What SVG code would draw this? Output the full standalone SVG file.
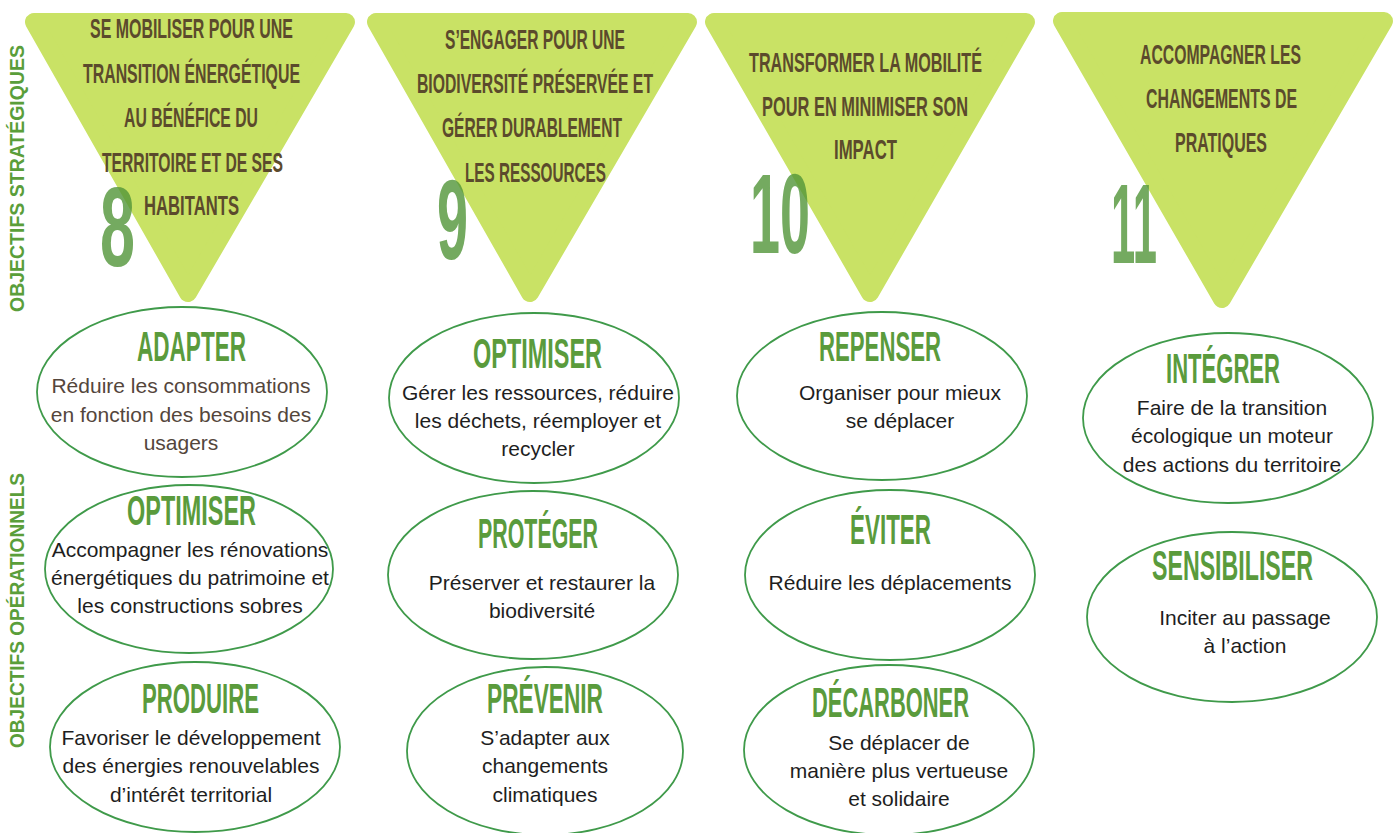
<svg xmlns="http://www.w3.org/2000/svg" width="1400" height="833" viewBox="0 0 1400 833">
<style>
.tri{fill:#c9e265;stroke:#c9e265;stroke-width:18;stroke-linejoin:round}
.th{font-family:"Liberation Sans",Arial,sans-serif;font-weight:bold;font-size:28px;fill:#5b4a2c}
.num{font-family:"Liberation Sans",Arial,sans-serif;font-weight:bold;font-size:114px;fill:#519538;fill-opacity:0.8}
.ell{fill:#ffffff;stroke:#3f9a4a;stroke-width:1.8}
.gh{font-family:"Liberation Sans",Arial,sans-serif;font-weight:bold;font-size:43px;fill:#5a9b3c}
.bt{font-family:"Liberation Sans",Arial,sans-serif;font-size:21px;fill:#1e1e1e;text-anchor:middle}
.bt2{fill:#54463c}
.vl{font-family:"Liberation Sans",Arial,sans-serif;font-weight:bold;font-size:20px;fill:#5a9e3a}
</style>
<rect width="1400" height="833" fill="#ffffff"/>
<g id="labels">
<text class="vl" transform="translate(24,178.5) rotate(-90)" x="-133.5" y="0" textLength="267" lengthAdjust="spacingAndGlyphs">OBJECTIFS STRATÉGIQUES</text>
<text class="vl" transform="translate(24,610.5) rotate(-90)" x="-137.5" y="0" textLength="275" lengthAdjust="spacingAndGlyphs">OBJECTIFS OPÉRATIONNELS</text>
</g>
<g id="connectors"></g>
<g id="obj8">
<polygon class="tri" points="34,22 346,22 188,293"/>
<text class="th" x="90" y="38" textLength="203" lengthAdjust="spacingAndGlyphs">SE MOBILISER POUR UNE</text>
<text class="th" x="83" y="83" textLength="217" lengthAdjust="spacingAndGlyphs">TRANSITION ÉNERGÉTIQUE</text>
<text class="th" x="124" y="127" textLength="134" lengthAdjust="spacingAndGlyphs">AU BÉNÉFICE DU</text>
<text class="th" x="102" y="172" textLength="181" lengthAdjust="spacingAndGlyphs">TERRITOIRE ET DE SES</text>
<text class="th" x="144" y="215" textLength="95" lengthAdjust="spacingAndGlyphs">HABITANTS</text>
<text class="num" x="100" y="266" textLength="35" lengthAdjust="spacingAndGlyphs">8</text>
</g>
<g id="obj9">
<polygon class="tri" points="376,22 688,22 530,293"/>
<text class="th" x="445" y="49" textLength="180" lengthAdjust="spacingAndGlyphs">S’ENGAGER POUR UNE</text>
<text class="th" x="417" y="93" textLength="236" lengthAdjust="spacingAndGlyphs">BIODIVERSITÉ PRÉSERVÉE ET</text>
<text class="th" x="442" y="137" textLength="180" lengthAdjust="spacingAndGlyphs">GÉRER DURABLEMENT</text>
<text class="th" x="465" y="182" textLength="141" lengthAdjust="spacingAndGlyphs">LES RESSOURCES</text>
<text class="num" x="437" y="259" textLength="31" lengthAdjust="spacingAndGlyphs">9</text>
</g>
<g id="obj10">
<polygon class="tri" points="714,22 1026,22 870,293"/>
<text class="th" x="749" y="72" textLength="233" lengthAdjust="spacingAndGlyphs">TRANSFORMER LA MOBILITÉ</text>
<text class="th" x="762" y="116" textLength="206" lengthAdjust="spacingAndGlyphs">POUR EN MINIMISER SON</text>
<text class="th" x="834" y="159" textLength="63" lengthAdjust="spacingAndGlyphs">IMPACT</text>
<text class="num" x="750" y="253" textLength="60" lengthAdjust="spacingAndGlyphs">10</text>
</g>
<g id="obj11">
<polygon class="tri" points="1062,21 1384,21 1222,299"/>
<text class="th" x="1140" y="64" textLength="161" lengthAdjust="spacingAndGlyphs">ACCOMPAGNER LES</text>
<text class="th" x="1146" y="108" textLength="151" lengthAdjust="spacingAndGlyphs">CHANGEMENTS DE</text>
<text class="th" x="1175" y="152" textLength="92" lengthAdjust="spacingAndGlyphs">PRATIQUES</text>
<text class="num" x="1111" y="263" textLength="46" lengthAdjust="spacingAndGlyphs">11</text>
</g>
<g id="adapter">
<ellipse class="ell" cx="182" cy="392" rx="145" ry="85"/>
<text class="gh" x="137" y="361" textLength="109" lengthAdjust="spacingAndGlyphs">ADAPTER</text>
<text class="bt bt2" x="181" y="393">Réduire les consommations</text>
<text class="bt bt2" x="181" y="422">en fonction des besoins des</text>
<text class="bt bt2" x="181" y="450">usagers</text>
</g>
<g id="optimiser1">
<ellipse class="ell" cx="189" cy="569" rx="144" ry="84"/>
<text class="gh" x="127" y="525" textLength="129" lengthAdjust="spacingAndGlyphs">OPTIMISER</text>
<text class="bt" x="190" y="557">Accompagner les rénovations</text>
<text class="bt" x="190" y="585">énergétiques du patrimoine et</text>
<text class="bt" x="190" y="613">les constructions sobres</text>
</g>
<g id="produire">
<ellipse class="ell" cx="195" cy="747" rx="145" ry="85"/>
<text class="gh" x="142" y="713" textLength="117" lengthAdjust="spacingAndGlyphs">PRODUIRE</text>
<text class="bt" x="191" y="745">Favoriser le développement</text>
<text class="bt" x="191" y="773">des énergies renouvelables</text>
<text class="bt" x="191" y="802">d’intérêt territorial</text>
</g>
<g id="optimiser2">
<ellipse class="ell" cx="534" cy="398" rx="145" ry="85"/>
<text class="gh" x="473" y="368" textLength="129" lengthAdjust="spacingAndGlyphs">OPTIMISER</text>
<text class="bt" x="538" y="400">Gérer les ressources, réduire</text>
<text class="bt" x="538" y="428">les déchets, réemployer et</text>
<text class="bt" x="538" y="456">recycler</text>
</g>
<g id="proteger">
<ellipse class="ell" cx="533" cy="575" rx="145" ry="84"/>
<text class="gh" x="478" y="548" textLength="120" lengthAdjust="spacingAndGlyphs">PROTÉGER</text>
<text class="bt" x="542" y="590">Préserver et restaurer la</text>
<text class="bt" x="542" y="618">biodiversité</text>
</g>
<g id="prevenir">
<ellipse class="ell" cx="545" cy="751" rx="138" ry="84"/>
<text class="gh" x="487" y="713" textLength="116" lengthAdjust="spacingAndGlyphs">PRÉVENIR</text>
<text class="bt" x="545" y="745">S’adapter aux</text>
<text class="bt" x="545" y="773">changements</text>
<text class="bt" x="545" y="802">climatiques</text>
</g>
<g id="repenser">
<ellipse class="ell" cx="882" cy="396" rx="145" ry="84"/>
<text class="gh" x="819" y="361" textLength="122" lengthAdjust="spacingAndGlyphs">REPENSER</text>
<text class="bt" x="900" y="400">Organiser pour mieux</text>
<text class="bt" x="900" y="428">se déplacer</text>
</g>
<g id="eviter">
<ellipse class="ell" cx="890" cy="575" rx="145" ry="85"/>
<text class="gh" x="850" y="544" textLength="81" lengthAdjust="spacingAndGlyphs">ÉVITER</text>
<text class="bt" x="890" y="590">Réduire les déplacements</text>
</g>
<g id="decarboner">
<ellipse class="ell" cx="889" cy="750" rx="145" ry="85"/>
<text class="gh" x="812" y="717" textLength="157" lengthAdjust="spacingAndGlyphs">DÉCARBONER</text>
<text class="bt" x="899" y="750">Se déplacer de</text>
<text class="bt" x="899" y="778">manière plus vertueuse</text>
<text class="bt" x="899" y="806">et solidaire</text>
</g>
<g id="integrer">
<ellipse class="ell" cx="1228" cy="418" rx="145" ry="85"/>
<text class="gh" x="1166" y="383" textLength="114" lengthAdjust="spacingAndGlyphs">INTÉGRER</text>
<text class="bt" x="1232" y="415">Faire de la transition</text>
<text class="bt" x="1232" y="443">écologique un moteur</text>
<text class="bt" x="1232" y="472">des actions du territoire</text>
</g>
<g id="sensibiliser">
<ellipse class="ell" cx="1232" cy="617" rx="145" ry="85"/>
<text class="gh" x="1152" y="580" textLength="161" lengthAdjust="spacingAndGlyphs">SENSIBILISER</text>
<text class="bt" x="1245" y="625">Inciter au passage</text>
<text class="bt" x="1245" y="653">à l’action</text>
</g>
</svg>
